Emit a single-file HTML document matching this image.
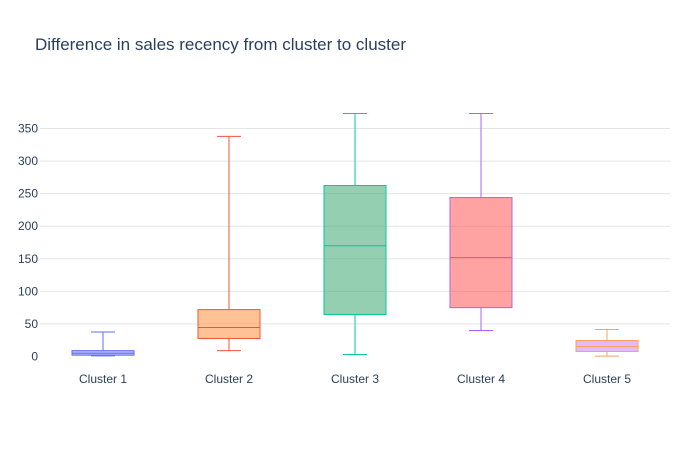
<!DOCTYPE html>
<html><head><meta charset="utf-8"><style>
body{margin:0;background:#fff;}
svg{display:block;font-family:"Liberation Sans",sans-serif;}
</style></head><body>
<svg id="chart" width="700" height="450">
<text x="35" y="50" font-size="17" fill="#2a3f5f">Difference in sales recency from cluster to cluster</text>
<g id="grid"></g><g id="boxes"></g><g id="xlabels"></g>
</svg>
<script>
const categories=["Cluster 1","Cluster 2","Cluster 3","Cluster 4","Cluster 5"];
const mins=[1,9,3,40,0.5];
const q1s=[2,27.6,64.5,75,7.7];
const medians=[5,44.5,170,152,15.4];
const q3s=[9,72,262.5,244,24.5];
const maxs=[37.6,338,373,373,41.5];
const yTicks=[0,50,100,150,200,250,300,350];
const lineColors=["#636efa","#EF553B","#00cc96","#ab63fa","#FFA15A"];
const fillColors=["rgba(99,110,250,0.5)","rgba(255,161,90,0.65)","rgba(44,160,101,0.5)","rgba(255,70,70,0.5)","rgba(200,120,250,0.5)"];
const NS="http://www.w3.org/2000/svg";
const x0=40,x1=670,yZero=356.5,k=228/350;
const y=v=>yZero-v*k;
const band=(x1-x0)/categories.length;
const xc=i=>x0+band*(i+0.5);
const grid=document.getElementById('grid'),boxes=document.getElementById('boxes'),xl=document.getElementById('xlabels');
function mk(tag,attrs,parent){const e=document.createElementNS(NS,tag);for(const a in attrs)e.setAttribute(a,attrs[a]);parent.appendChild(e);return e;}
yTicks.forEach(t=>{
 if(t>0){const l=mk('line',{x1:x0,x2:x1,y1:y(t),y2:y(t),stroke:'#e5e5e5','stroke-width':1},grid);
 
 }
 const tx=mk('text',{x:38,y:y(t)+4,'text-anchor':'end','font-size':12,fill:'#2a3f5f'},grid);
 tx.textContent=t;
 
 
});
const bw=62,cw=12,sw=1;
categories.forEach((c,i)=>{
 const g=mk('g',{},boxes);
 
 
 const cx=xc(i),col=lineColors[i];
 mk('line',{x1:cx,x2:cx,y1:y(maxs[i]),y2:y(q3s[i]),stroke:col,'stroke-width':sw},g);
 mk('line',{x1:cx,x2:cx,y1:y(q1s[i]),y2:y(mins[i]),stroke:col,'stroke-width':sw},g);
 mk('line',{x1:cx-cw,x2:cx+cw,y1:y(maxs[i]),y2:y(maxs[i]),stroke:col,'stroke-width':sw},g);
 mk('line',{x1:cx-cw,x2:cx+cw,y1:y(mins[i]),y2:y(mins[i]),stroke:col,'stroke-width':sw},g);
 mk('rect',{x:cx-bw/2,y:y(q3s[i]),width:bw,height:Math.max(1,y(q1s[i])-y(q3s[i])),fill:fillColors[i],stroke:col,'stroke-width':sw},g);
 mk('line',{x1:cx-bw/2,x2:cx+bw/2,y1:y(medians[i]),y2:y(medians[i]),stroke:col,'stroke-width':sw},g);
 const t=mk('text',{x:cx,y:383,'text-anchor':'middle','font-size':12,fill:'#2a3f5f'},xl);
 t.textContent=c;
 
 
});
</script>
</body></html>
